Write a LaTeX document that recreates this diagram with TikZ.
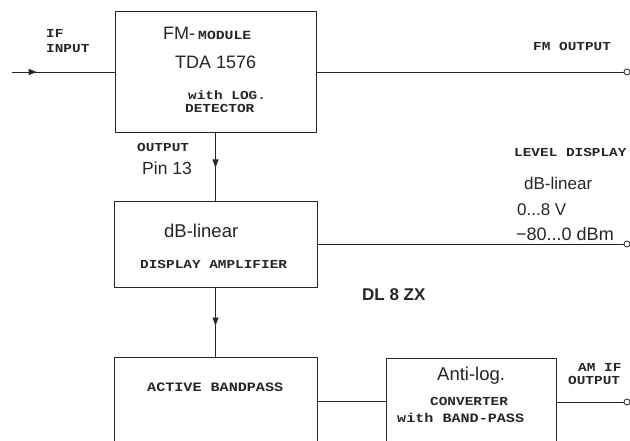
\documentclass[tikz,border=0pt]{standalone}
\usepackage{fontspec}
\setmainfont{Liberation Sans}
\newfontfamily\tw[FakeStretch=1.18]{Liberation Mono}
\usetikzlibrary{arrows.meta,decorations.markings}
\tikzset{
  blk/.style={draw=black!85, line width=1pt, inner sep=0pt, outer sep=0pt, anchor=north west},
  wire/.style={draw=black!85, line width=0.9pt},
  midarrow/.style={postaction={decorate}, decoration={markings,
      mark=at position #1 with {\arrow{Triangle[length=8pt,width=6pt]}}}},
  term/.style={draw=black!85, circle, line width=0.8pt, fill=white, minimum size=6pt, inner sep=0pt},
  tt/.style={inner sep=0pt, anchor=west, text depth=0pt, font=\tw\bfseries\fontsize{12.2}{12.2}\selectfont, text=black!85},
  ss/.style={inner sep=0pt, anchor=west, text depth=0pt, font=\fontsize{18}{18}\selectfont, text=black!85},
}
\begin{document}
\begin{tikzpicture}[x=1pt,y=-1pt]
\clip (0,0) rectangle (630,441);
\fill[white] (0,0) rectangle (630,441);
% blocks
\node[blk, minimum width=201pt, minimum height=121pt] (fm) at (115,12) {};
\node[blk, minimum width=203pt, minimum height=85pt] (db) at (114,202) {};
\node[blk, minimum width=203pt, minimum height=120pt] (bp) at (114,357) {};
\node[blk, minimum width=170pt, minimum height=110pt] (al) at (386,358) {};
% terminals
\coordinate (ifin) at (12,72);
\node[term] (fmo) at (627,72) {};
\node[term] (lvl) at (627,244) {};
\node[term] (amo) at (627,402) {};
% connectors
\draw[wire, midarrow=0.24] (ifin) -- (ifin -| fm.west);
\draw[wire] (fmo -| fm.east) -- (fmo);
\draw[wire, midarrow=0.5] (fm.south) -- (db.north);
\draw[wire] (lvl -| db.east) -- (lvl);
\draw[wire, midarrow=0.55] (db.south) -- (bp.north);
\coordinate (bpal) at (0,401);
\draw[wire] (bpal -| bp.east) -- (bpal -| al.west);
\draw[wire] (amo -| al.east) -- (amo);
% texts
\node[tt] (t1) at (46,33) {IF};
\node[tt] (t2) at (46,48) {INPUT};
\node[ss] (t3) at (163,33) {FM-\,{\tw\bfseries\fontsize{12.5}{12.5}\selectfont MODULE}};
\node[ss] (t4) at (175,62) {TDA 1576};
\node[tt] (t5) at (188,95) {with LOG.};
\node[tt] (t6) at (185,108) {DETECTOR};
\node[tt] (t7) at (533,46) {FM OUTPUT};
\node[tt] (t8) at (137,147.5) {OUTPUT};
\node[ss, font=\fontsize{17.5}{17.5}\selectfont] (t9) at (142,168) {Pin 13};
\node[tt] (t10) at (514,152) {LEVEL DISPLAY};
\node[ss, font=\fontsize{17}{17}\selectfont] (t11) at (524,183.5) {dB-linear};
\node[ss, font=\fontsize{17}{17}\selectfont] (t12) at (517,209.5) {0...8 V};
\node[ss, font=\fontsize{18}{18}\selectfont] (t13) at (516,233.5) {−80...0 dBm};
\node[ss, font=\fontsize{18.5}{18.5}\selectfont] (t14) at (164,230.5) {dB-linear};
\node[tt] (t15) at (140,264.5) {DISPLAY AMPLIFIER};
\node[ss, font=\bfseries\fontsize{17}{17}\selectfont] (t16) at (362,294.5) {DL 8 ZX};
\node[tt, font=\tw\bfseries\fontsize{12.8}{12.8}\selectfont] (t17) at (147,387.5) {ACTIVE BANDPASS};
\node[ss, font=\fontsize{18.5}{18.5}\selectfont] (t18) at (437,373.5) {Anti-log.};
\node[tt] (t19) at (430,401.5) {CONVERTER};
\node[tt, font=\tw\bfseries\fontsize{12.8}{12.8}\selectfont] (t20) at (397,417.5) {with BAND-PASS};
\node[tt] (t21) at (578,367) {AM IF};
\node[tt] (t22) at (568,380.5) {OUTPUT};
\end{tikzpicture}
\end{document}
